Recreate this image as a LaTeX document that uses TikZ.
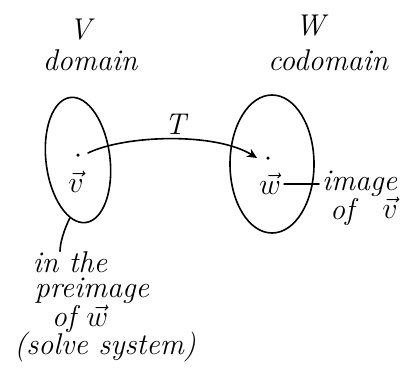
\RequirePackage{fix-cm}
\documentclass[tikz,border=0pt]{standalone}
\usetikzlibrary{shapes.geometric,arrows.meta}
\begin{document}
\begin{tikzpicture}[x=1pt,y=-1pt,
  hand/.style={font=\fontsize{30}{34}\selectfont\itshape, inner sep=0pt},
  setshape/.style={draw, ellipse, line width=1.6pt, inner sep=0pt},
  pt/.style={circle, fill, inner sep=0pt, minimum size=3.5pt},
  ink/.style={line width=1.6pt, line cap=round}]
\useasboundingbox (0,0) rectangle (414,381);
% headings
\node[hand] (V) at (80,30) {V};
\node[hand] (dom) at (90,60) {domain};
\node[hand] (W) at (310,26) {W};
\node[hand] (cod) at (328,60) {codomain};
% the two sets
\node[setshape, minimum width=64, minimum height=126, rotate=7] (Vset) at (78,160) {};
\node[setshape, minimum width=84, minimum height=138] (Wset) at (272,164) {};
% points and their labels
\node[pt] (pv) at (78,155) {};
\node[hand] (vlab) at (76,182) {$\vec{v}$};
\node[pt] (pw) at (268,158) {};
\node[hand] (wlab) at (270,184) {$\vec{w}$};
% the map T
\node[hand] (T) at (175,124) {T};
\draw[ink, -{Stealth[length=10pt,width=9pt]}] (pv) ++(10,-2) coordinate (s)
  .. controls (125,135) and (215,132) .. ([xshift=-9pt]pw.west);
% image of v
\node[hand, anchor=west] (img) at (322,184) {image};
\node[hand] (of1) at (342,212) {of};
\node[hand] (vv) at (390,208) {$\vec{v}$};
\draw[ink] ([xshift=3pt]wlab.east) -- ([xshift=-3pt]img.west);
% preimage note
\node[hand] (l1) at (70,262) {in the};
\node[hand] (l2) at (92,291) {preimage};
\node[hand] (l3) at (80,319) {of $\vec{w}$};
\node[hand] (l4) at (105,347) {(solve system)};
\draw[ink] (Vset.255) .. controls ++(-6,12) and ++(0,-8) .. ([xshift=-10pt]l1.north);
\end{tikzpicture}
\end{document}
